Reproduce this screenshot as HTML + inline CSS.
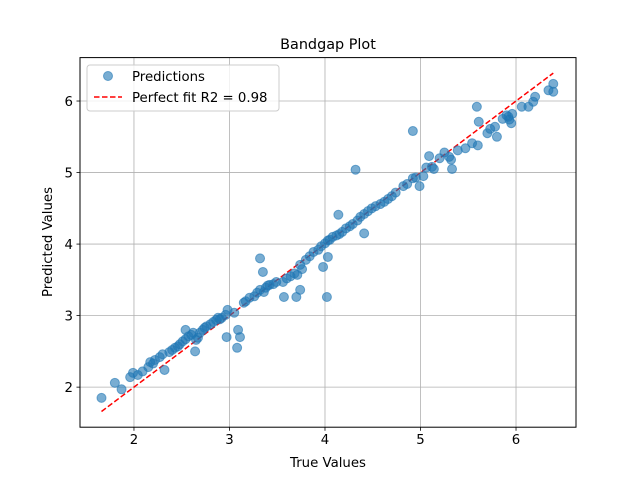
<!DOCTYPE html>
<html><head><meta charset="utf-8"><style>
html,body{margin:0;padding:0;background:#fff;}
svg text{font-family:"DejaVu Sans","Liberation Sans",sans-serif;fill:#000;}
</style></head><body>
<svg id="chart" width="640" height="480" xmlns="http://www.w3.org/2000/svg">
<rect width="640" height="480" fill="#fff"/>
<text x="328" y="49" font-size="14.4" text-anchor="middle">Bandgap Plot</text>
<g id="grid"></g>
<g id="fit"></g>
<g id="pts"></g>
<rect x="80" y="57.6" width="496" height="369.6" fill="none" stroke="#000" stroke-width="1"/>
<g id="ticks"></g>
<text x="328" y="467" font-size="13.3" text-anchor="middle">True Values</text>
<text x="0" y="0" font-size="13.3" text-anchor="middle" transform="translate(52,242) rotate(-90)">Predicted Values</text>
<g>
<rect x="87" y="65" width="192" height="46" rx="3" fill="#fff" fill-opacity="0.8" stroke="#ccc"/>
<circle cx="108" cy="76" r="4.5" fill="#1f77b4" fill-opacity="0.6" stroke="#1f77b4" stroke-opacity="0.6"/>
<text x="132" y="81" font-size="13.3">Predictions</text>
<line x1="94" y1="97" x2="122" y2="97" stroke="red" stroke-width="1.5" stroke-dasharray="5.5,2.5"/>
<text x="132" y="102" font-size="13.3">Perfect fit R2 = 0.98</text>
</g>
</svg>
<script>
const trueVals=[
1.66,1.80,1.87,1.96,1.99,2.04,2.09,2.15,2.17,2.22,
2.27,2.30,2.32,2.37,2.40,2.43,2.46,2.48,2.51,2.54,
2.54,2.57,2.60,2.62,2.64,2.65,2.67,2.69,2.72,2.74,
2.76,2.80,2.83,2.86,2.88,2.92,2.96,2.97,2.98,3.05,
3.08,3.09,3.11,3.15,3.17,3.21,3.26,3.29,3.32,3.32,
3.35,3.36,3.38,3.42,3.46,3.49,3.56,3.57,3.60,3.64,
3.68,3.70,3.71,3.74,3.74,3.76,3.80,3.84,3.88,3.93,
3.96,3.98,4.00,4.02,4.03,4.03,4.05,4.08,4.12,4.14,
4.15,4.18,4.22,4.26,4.29,4.32,4.34,4.41,4.37,4.41,
4.45,4.49,4.53,4.58,4.62,4.66,4.70,4.74,4.82,4.86,
4.92,4.95,4.99,5.03,5.09,5.12,5.14,5.30,5.32,5.33,
5.39,5.47,5.54,5.60,5.59,5.61,5.70,5.73,5.78,5.80,
5.86,5.92,5.96,5.95,6.06,6.13,6.18,6.20,6.34,6.39,
6.39,4.92,5.06,5.20,5.25,5.90,5.93,2.20,2.90,3.40];
const predVals=[
1.85,2.06,1.97,2.14,2.20,2.17,2.22,2.28,2.35,2.38,
2.42,2.46,2.24,2.49,2.52,2.55,2.57,2.60,2.64,2.80,
2.67,2.71,2.73,2.76,2.50,2.66,2.69,2.76,2.80,2.83,
2.85,2.88,2.91,2.94,2.97,2.97,3.01,2.70,3.08,3.04,
2.55,2.80,2.70,3.18,3.20,3.25,3.27,3.32,3.80,3.36,
3.61,3.33,3.39,3.43,3.44,3.47,3.47,3.26,3.52,3.55,
3.59,3.26,3.57,3.36,3.71,3.65,3.78,3.83,3.89,3.92,
3.97,3.68,4.01,3.26,3.82,4.05,4.06,4.10,4.12,4.41,
4.14,4.17,4.22,4.25,4.28,5.04,4.33,4.15,4.38,4.42,
4.46,4.50,4.53,4.56,4.59,4.63,4.67,4.72,4.81,4.84,
4.92,4.93,4.81,4.95,5.23,5.08,5.05,5.22,5.18,5.05,
5.31,5.34,5.41,5.38,5.92,5.71,5.55,5.61,5.64,5.50,
5.75,5.78,5.82,5.69,5.92,5.92,5.99,6.06,6.15,6.24,
6.13,5.58,5.07,5.20,5.28,5.80,5.74,2.33,2.95,3.42];
const xTicks=[2,3,4,5,6];
const yTicks=[2,3,4,5,6];
const fitRange=[1.66,6.39];
const X0=80,X1=576,Y0=427.2,Y1=57.6,xmin=1.435,xmax=6.628,ymin=1.44,ymax=6.607;
function sx(v){return X0+(v-xmin)/(xmax-xmin)*(X1-X0);}
function sy(v){return Y0-(v-ymin)/(ymax-ymin)*(Y0-Y1);}
const NS='http://www.w3.org/2000/svg';
function mk(t,a,p){const e=document.createElementNS(NS,t);for(const k in a)e.setAttribute(k,a[k]);p.appendChild(e);return e;}
const grid=document.getElementById('grid'),ticks=document.getElementById('ticks');
xTicks.forEach(v=>{const x=sx(v);
 const g=mk('line',{x1:x,x2:x,y1:Y1,y2:Y0,stroke:'#b0b0b0','stroke-width':0.8},grid);
 
 
 const t=mk('line',{x1:x,x2:x,y1:Y0,y2:Y0+3.5,stroke:'#000','stroke-width':0.8},ticks);
 
 
 const l=mk('text',{x:x,y:Y0+17,'font-size':13.3,'text-anchor':'middle'},ticks);l.textContent=v;
 
 
});
yTicks.forEach(v=>{const y=sy(v);
 const g=mk('line',{x1:X0,x2:X1,y1:y,y2:y,stroke:'#b0b0b0','stroke-width':0.8},grid);
 
 
 const t=mk('line',{x1:X0-3.5,x2:X0,y1:y,y2:y,stroke:'#000','stroke-width':0.8},ticks);
 
 
 const l=mk('text',{x:X0-7,y:y+4.8,'font-size':13.3,'text-anchor':'end'},ticks);l.textContent=v;
 
 
});
const pts=document.getElementById('pts');
trueVals.forEach((v,i)=>{
 const c=mk('circle',{cx:sx(v),cy:sy(predVals[i]),r:4.5,fill:'#1f77b4','fill-opacity':0.6,stroke:'#1f77b4','stroke-opacity':0.6,'stroke-width':1},pts);
 
 
});
const fl=mk('line',{x1:sx(fitRange[0]),y1:sy(fitRange[0]),x2:sx(fitRange[1]),y2:sy(fitRange[1]),stroke:'red','stroke-width':1.5,'stroke-dasharray':'5.5,2.5'},document.getElementById('fit'));


</script>
</body></html>
